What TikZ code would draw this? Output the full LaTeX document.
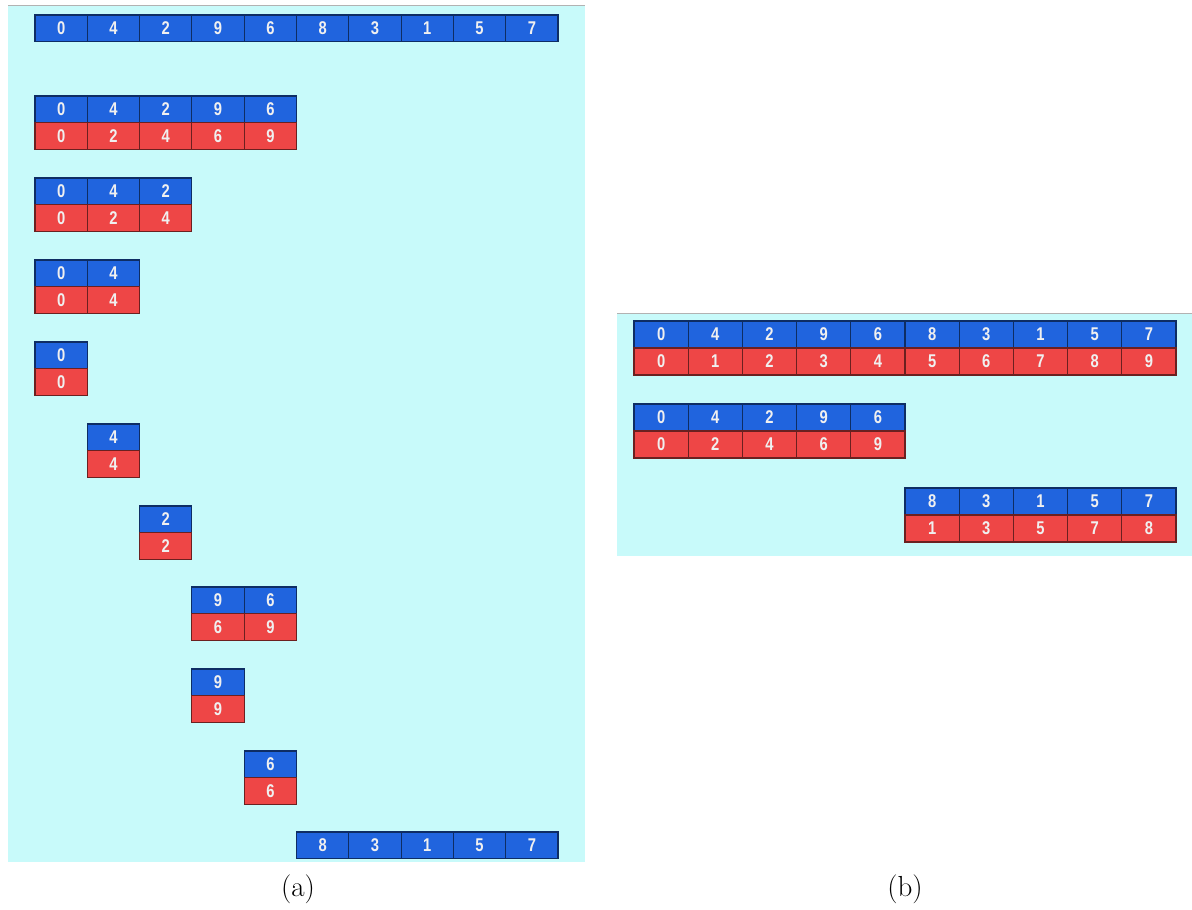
\documentclass[tikz,border=0pt]{standalone}
\usepackage{fontspec}
\setsansfont{Liberation Sans}
\usepackage{tikz}
\usetikzlibrary{positioning}
\definecolor{cellblue}{RGB}{32,100,222}
\definecolor{cellred}{RGB}{238,70,70}
\definecolor{panelbg}{RGB}{200,250,250}
\tikzset{
  cellbase/.style={rectangle, inner sep=0pt, outer sep=0pt, text=white!94!black,
    font=\sffamily\bfseries\fontsize{10.5}{11}\selectfont, line width=0.6pt},
  bluecell/.style={cellbase, fill=cellblue, draw=cellblue!45!black},
  redcell/.style={cellbase, fill=cellred, draw=cellred!45!black},
  lcell/.style={minimum width=1.046cm, minimum height=0.53cm},
  rcell/.style={minimum width=1.084cm, minimum height=0.54cm},
  caption/.style={font=\fontsize{16.5}{18}\selectfont}
}
\begin{document}
\begin{tikzpicture}[x=0.02cm,y=-0.02cm]
\useasboundingbox (0,0) rectangle (1192,909);
% panel backgrounds
\fill[panelbg] (8,5) rectangle (585,862);
\draw[gray!60] (8,5) -- (585,5);
\fill[panelbg] (617,313) rectangle (1192,556);
\draw[gray!60] (617,313) -- (1192,313);

% (a): blue rows (name / start cell / top y / values)
\foreach \r/\s/\yt/\vals in {a0/0/15/{0,4,2,9,6,8,3,1,5,7}, a1/0/96/{0,4,2,9,6},
    a2/0/178/{0,4,2}, a3/0/260/{0,4}, a4/0/342/{0}, a5/1/424/{4}, a6/2/506/{2},
    a7/3/587/{9,6}, a8/3/669/{9}, a9/4/751/{6}, a10/5/832/{8,3,1,5,7}}{
  \foreach \v [count=\k] in \vals
    \node[bluecell,lcell] (\r-b\k) at ({35+52.3*(\s+\k-0.5)},{\yt+13.25}) {\scalebox{0.8}[1]{\v}};
}
% (a): red rows, sorted
\foreach \r/\s/\yt/\vals in {a1/0/96/{0,2,4,6,9}, a2/0/178/{0,2,4}, a3/0/260/{0,4},
    a4/0/342/{0}, a5/1/424/{4}, a6/2/506/{2}, a7/3/587/{6,9}, a8/3/669/{9},
    a9/4/751/{6}}{
  \foreach \v [count=\k] in \vals
    \node[redcell,lcell] (\r-r\k) at ({35+52.3*(\s+\k-0.5)},{\yt+40}) {\scalebox{0.8}[1]{\v}};
}

% (b): blue over red
\foreach \r/\s/\yt/\top/\bot in {b0/0/321/{0,4,2,9,6,8,3,1,5,7}/{0,1,2,3,4,5,6,7,8,9},
    b1/0/404/{0,4,2,9,6}/{0,2,4,6,9}, b2/5/488/{8,3,1,5,7}/{1,3,5,7,8}}{
  \foreach \v [count=\k] in \top
    \node[bluecell,rcell] (\r-b\k) at ({634+54.2*(\s+\k-0.5)},{\yt+13.5}) {\scalebox{0.8}[1]{\v}};
  \foreach \v [count=\k] in \bot
    \node[redcell,rcell] (\r-r\k) at ({634+54.2*(\s+\k-0.5)},{\yt+40.5}) {\scalebox{0.8}[1]{\v}};
}

% captions
\node[caption] (capa) at (298,889) {(a)};
\node[caption] (capb) at (905,889) {(b)};
\end{tikzpicture}
\end{document}
